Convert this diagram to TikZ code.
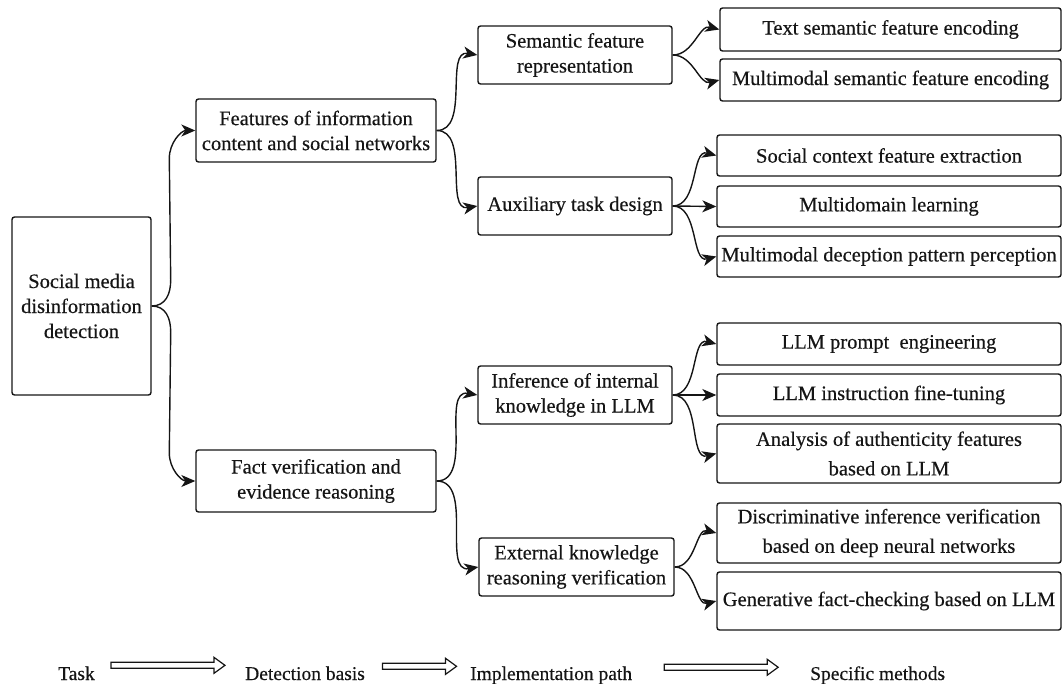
\documentclass[tikz,border=0pt]{standalone}
\usepackage{fontspec}
\setmainfont{Liberation Serif}
\usetikzlibrary{arrows.meta,calc}

\definecolor{ink}{HTML}{151515}

% hollow block arrow used in the legend row: #1 = centre coordinate, #2 = length
\newcommand\legendarrow[2]{%
  \draw[legline] ($(#1)+(-#2/2,-3)$) -- ($(#1)+(#2/2-11,-3)$) -- ($(#1)+(#2/2-11,-8)$)
    -- ($(#1)+(#2/2,0)$) -- ($(#1)+(#2/2-11,8)$) -- ($(#1)+(#2/2-11,3)$)
    -- ($(#1)+(-#2/2,3)$) -- cycle;}

\begin{document}
\begin{tikzpicture}[x=1pt,y=-1pt,
  box/.style={draw=ink, line width=1.4pt, rounded corners=2.5pt, align=center,
    inner sep=0pt, text=ink, font=\fontsize{20.5}{25}\selectfont\addfontfeature{FakeBold=0.4}},
  tallbox/.style={box, font=\fontsize{20.5}{29.5}\selectfont\addfontfeature{FakeBold=0.4}},
  conn/.style={draw=ink, line width=1.4pt, -{Stealth[length=14pt,width=12pt,inset=4pt]}},
  legend/.style={anchor=base west, inner sep=0pt, text=ink,
    font=\fontsize{19.5}{23}\selectfont\addfontfeature{FakeBold=0.4}},
  legline/.style={draw=ink, line width=1.2pt}]
\useasboundingbox (0,0) rectangle (1064,684);

% task
\node[box, minimum width=139, minimum height=178] (root) at (81.5,306)
  {Social media\\disinformation\\detection};

% detection basis
\node[box, minimum width=240, minimum height=63] (f1) at (316,130.5)
  {Features of information\\content and social networks};
\node[box, minimum width=240, minimum height=62] (f2) at (316,481)
  {Fact verification and\\evidence reasoning};

% implementation paths
\node[box, minimum width=194, minimum height=58] (s1) at (575,55)
  {Semantic feature\\representation};
\node[box, minimum width=194, minimum height=58] (s2) at (575,206)
  {Auxiliary task design};
\node[box, minimum width=194, minimum height=58] (s3) at (575,395)
  {Inference of internal\\knowledge in LLM};
\node[box, minimum width=195, minimum height=58] (s4) at (576.5,567)
  {External knowledge\\reasoning verification};

% specific methods
\node[box, minimum width=341, minimum height=43] (r1) at (890.5,29.5)
  {Text semantic feature encoding};
\node[box, minimum width=341, minimum height=42] (r2) at (890.5,80)
  {Multimodal semantic feature encoding};
\node[box, minimum width=344, minimum height=41] (r3) at (889,155.5)
  {Social context feature extraction};
\node[box, minimum width=344, minimum height=41] (r4) at (889,206.5)
  {Multidomain learning};
\node[box, minimum width=344, minimum height=41] (r5) at (889,256.5)
  {Multimodal deception pattern perception};
\node[box, minimum width=344, minimum height=42] (r6) at (889,344)
  {LLM prompt~ engineering};
\node[box, minimum width=344, minimum height=42] (r7) at (889,395)
  {LLM instruction fine-tuning};
\node[tallbox, minimum width=344, minimum height=59] (r8) at (889,453.5)
  {Analysis of authenticity features\\based on LLM};
\node[tallbox, minimum width=344, minimum height=60] (r9) at (889,533)
  {Discriminative inference verification\\based on deep neural networks};
\node[box, minimum width=344, minimum height=58] (r10) at (889,601)
  {Generative fact-checking based on LLM};

% task -> detection basis (bracket-like branches)
\draw[conn] (root.east) .. controls +(14,0) and +(0,14) .. ($(root.east)+(19,-26)$)
  -- ($(f1.west)+(-26,28)$) .. controls +(0,-16) and +(-14,0) .. (f1.west);
\draw[conn] (root.east) .. controls +(14,0) and +(0,-14) .. ($(root.east)+(19,26)$)
  -- ($(f2.west)+(-26,-28)$) .. controls +(0,16) and +(-14,0) .. (f2.west);

% detection basis -> implementation paths
\draw[conn] (f1.east) to[out=0,in=170] (s1.west);
\draw[conn] (f1.east) to[out=0,in=190] (s2.west);
\draw[conn] (f2.east) to[out=0,in=170] (s3.west);
\draw[conn] (f2.east) to[out=0,in=190] (s4.west);

% implementation paths -> specific methods
\draw[conn] (s1.east) to[out=0,in=165] (r1.west);
\draw[conn] (s1.east) to[out=0,in=195] (r2.west);
\draw[conn] (s2.east) to[out=0,in=165] (r3.west);
\draw[conn] (s2.east) -- (r4.west);
\draw[conn] (s2.east) to[out=0,in=195] (r5.west);
\draw[conn] (s3.east) to[out=0,in=165] (r6.west);
\draw[conn] (s3.east) -- (r7.west);
\draw[conn] (s3.east) to[out=0,in=195] (r8.west);
\draw[conn] (s4.east) to[out=0,in=165] (r9.west);
\draw[conn] (s4.east) to[out=0,in=195] (r10.west);

% legend row
\node[legend] (lt) at (58,680) {Task};
\node[legend] (lb) at (245,680) {Detection basis};
\node[legend] (li) at (470,680) {Implementation path};
\node[legend] (ls) at (810,680) {Specific methods};
\coordinate (a1) at ($(lt.east)!0.5!(lb.west) + (-2,-8)$);
\coordinate (a2) at ($(lb.east)!0.5!(li.west) + (2,-8)$);
\coordinate (a3) at ($(li.east)!0.5!(ls.west) + (0,-8)$);
\legendarrow{a1}{114}
\legendarrow{a2}{74}
\legendarrow{a3}{114}
\end{tikzpicture}
\end{document}
